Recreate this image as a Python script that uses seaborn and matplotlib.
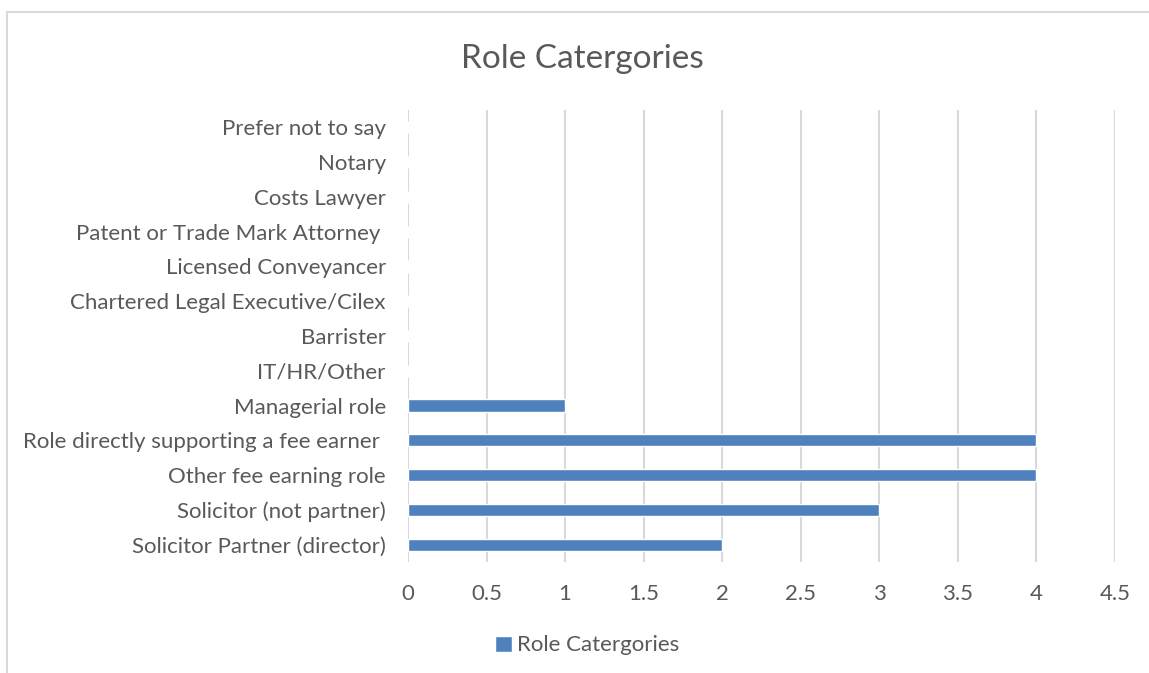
import numpy as np
import pandas as pd
import matplotlib.pyplot as plt
import seaborn as sns
from matplotlib.patches import Rectangle

# Data (top to bottom as shown)
categories = [
    "Prefer not to say",
    "Notary",
    "Costs Lawyer",
    "Patent or Trade Mark Attorney ",
    "Licensed Conveyancer",
    "Chartered Legal Executive/Cilex",
    "Barrister",
    "IT/HR/Other",
    "Managerial role",
    "Role directly supporting a fee earner ",
    "Other fee earning role",
    "Solicitor (not partner)",
    "Solicitor Partner (director)",
]
counts = [0, 0, 0, 0, 0, 0, 0, 0, 1, 4, 4, 3, 2]
x_ticks = [0, 0.5, 1, 1.5, 2, 2.5, 3, 3.5, 4, 4.5]
x_labels = ["0", "0.5", "1", "1.5", "2", "2.5", "3", "3.5", "4", "4.5"]

df = pd.DataFrame({"Role": categories, "Count": counts})

sns.set_style("white")
plt.rcParams["font.family"] = ["Lato", "DejaVu Sans"]

bar_color = "#4F81BD"
text_color = "#595959"
grid_color = "#D9D9D9"
fs = 16

fig = plt.figure(figsize=(11.49, 6.73), dpi=100)
ax = fig.add_axes([0.3551, 0.1649, 0.6153, 0.6717])

sns.barplot(data=df, x="Count", y="Role", orient="h", color=bar_color,
            width=0.35, saturation=1, label="Role Catergories", ax=ax)

ax.set_xlim(0, 4.5)
ax.set_xticks(x_ticks)
ax.set_xticklabels(x_labels)
ax.set_xlabel("")
ax.set_ylabel("")
for s in ax.spines.values():
    s.set_visible(False)
ax.grid(axis="x", color=grid_color, linewidth=1.5)
ax.grid(axis="y", visible=False)
ax.set_axisbelow(True)
ax.tick_params(axis="x", length=0, pad=16, labelsize=fs, labelcolor=text_color)
ax.tick_params(axis="y", length=0, pad=16, labelsize=fs, labelcolor=text_color)

fig.text(0.507, 0.913, "Role Catergories", ha="center", va="center",
         fontsize=24, color=text_color)

ax.legend(loc="center", bbox_to_anchor=(0.511, 0.041), bbox_transform=fig.transFigure,
          frameon=False, fontsize=fs, labelcolor=text_color,
          handlelength=0.75, handleheight=0.75, handletextpad=0.25)

# chart frame
fig.patches.append(Rectangle((7 / 1149, -0.1), 1.2, 0.1 + (673 - 12) / 673,
                             transform=fig.transFigure, fill=False,
                             edgecolor=grid_color, linewidth=1.5))

fig.savefig("out.png", dpi=100)
